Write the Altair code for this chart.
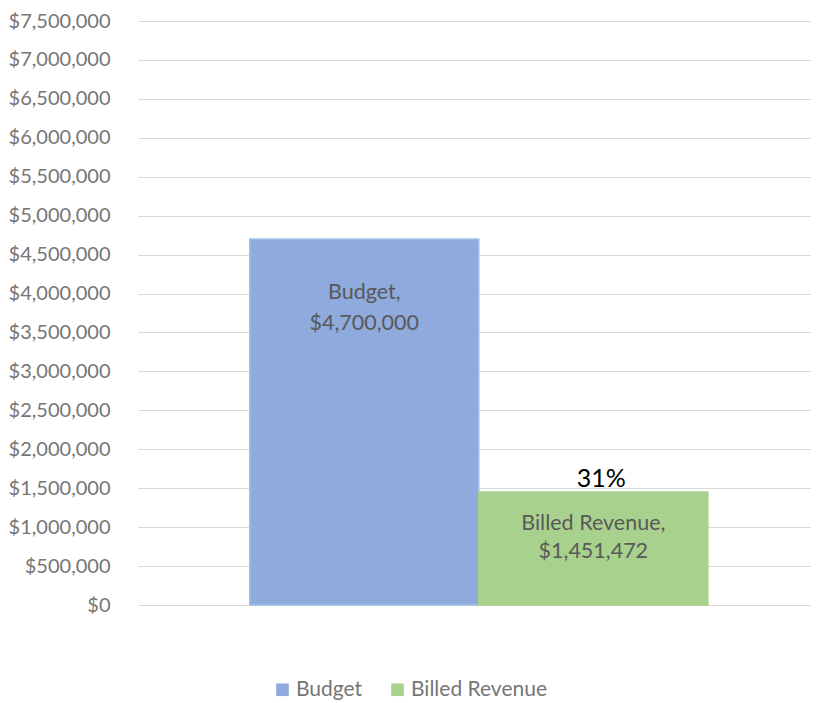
import altair as alt
import pandas as pd

categories = ["Budget", "Billed Revenue"]
values = [4700000, 1451472]
fill_colors = ["#8faadc", "#a9d18e"]
stroke_colors = ["#9dc3e6", "#a9d18e"]
y_ticks = [0, 500000, 1000000, 1500000, 2000000, 2500000, 3000000, 3500000,
           4000000, 4500000, 5000000, 5500000, 6000000, 6500000, 7000000, 7500000]
pct_labels = ["", "31%"]

df = pd.DataFrame({
    "category": categories,
    "value": values,
    "label": [[f"{c},", f"${v:,}"] for c, v in zip(categories, values)],
    "pct": pct_labels,
})

FONT = "Lato"

x = alt.X("category:N", sort=categories, axis=None,
          scale=alt.Scale(paddingInner=0, paddingOuter=0.469, align=0.52))
y = alt.Y("value:Q", title=None,
          scale=alt.Scale(domain=[0, 7500000], nice=False, zero=True),
          axis=alt.Axis(values=y_ticks, format="$,.0f", domain=False, ticks=False,
                        labelOverlap=False, labelBound=False,
                        labelPadding=28, labelFontSize=20, labelColor="#767676",
                        labelFont=FONT, gridColor="#d9d9d9", gridWidth=1.2))

bars = alt.Chart(df).mark_bar(strokeWidth=1.5).encode(
    x=x,
    y=y,
    color=alt.Color("category:N", sort=categories,
                    scale=alt.Scale(domain=categories, range=fill_colors),
                    legend=alt.Legend(title=None, orient="none", legendX=134, legendY=658,
                                      direction="horizontal", symbolType="square",
                                      symbolSize=160, symbolStrokeWidth=0,
                                      labelFontSize=21, labelColor="#767676",
                                      labelFont=FONT, labelOffset=3, columnPadding=24)),
    stroke=alt.Stroke("category:N", scale=alt.Scale(domain=categories, range=stroke_colors),
                      legend=None),
)

text_budget = alt.Chart(df).transform_filter(alt.datum.category == "Budget").mark_text(
    baseline="middle", align="center", dy=54, fontSize=21.5, font=FONT,
    color="#595959", lineHeight=31
).encode(x=x, y=y, text="label")

text_billed = alt.Chart(df).transform_filter(alt.datum.category == "Billed Revenue").mark_text(
    baseline="middle", align="center", dy=32, fontSize=21.5, font=FONT,
    color="#595959", lineHeight=28
).encode(x=x, y=y, text="label")

pct_text = alt.Chart(df).transform_filter(alt.datum.pct != "").mark_text(
    baseline="middle", align="center", dy=-13, dx=8, fontSize=25, font=FONT,
    color="#000000"
).encode(x=x, y=y, text="pct:N")

chart = alt.layer(bars, text_budget, text_billed, pct_text).properties(
    width=673, height=584,
    autosize=alt.AutoSizeParams(type="none"),
    padding={"left": 130, "top": 13, "right": 0, "bottom": 95},
).configure_view(stroke=None)

chart.save("out.html", embed_options={"renderer": "svg", "actions": False})
